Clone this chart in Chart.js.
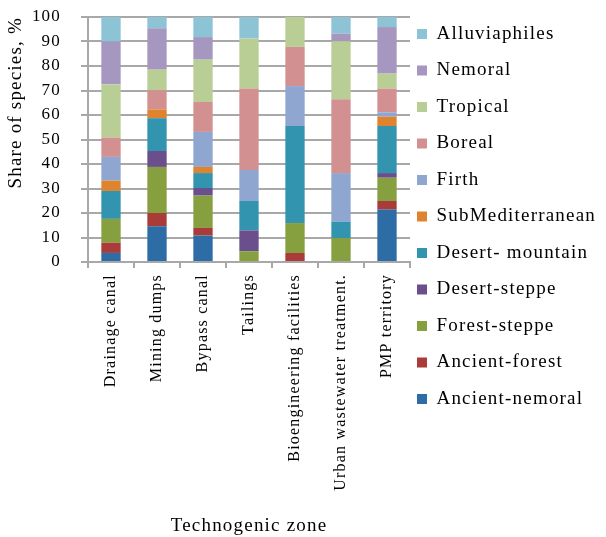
<!DOCTYPE html>
<html>
<head>
<meta charset="utf-8">
<script src="https://cdn.jsdelivr.net/npm/chart.js@4"></script>
<style>
  html, body { margin: 0; padding: 0; background: #fff; }
  #wrap { width: 606px; height: 537px; }
</style>
</head>
<body>
<div id="wrap"><canvas id="c" width="606" height="537"></canvas></div>
<script>
// Technogenic zones (x categories)
const zones = ['Drainage canal', 'Mining dumps', 'Bypass canal', 'Tailings',
  'Bioengineering facilities', 'Urban wastewater treatment.', 'PMP territory'];

// Share of species per ecological group, % (stacked bottom to top)
const ancientNemoral   = [3.7, 14.6, 10.8, 0, 0, 0, 21.4];
const ancientForest    = [4.2, 5.4, 3.1, 0, 3.7, 0, 3.5];
const forestSteppe     = [9.7, 18.8, 13.2, 4.4, 12.2, 9.8, 9.5];
const desertSteppe     = [0, 6.5, 3.1, 8.5, 0, 0, 1.9];
const desertMountain   = [11.4, 13.4, 6.1, 12.0, 39.6, 6.7, 19.2];
const subMediterranean = [4.2, 3.6, 2.5, 0, 0, 0, 3.8];
const firth            = [9.7, 0, 14.3, 12.7, 16.3, 19.8, 1.8];
const boreal           = [7.9, 7.8, 12.2, 33.2, 16.0, 30.1, 9.7];
const tropical         = [21.7, 8.4, 17.3, 20.4, 12.2, 23.7, 6.1];
const nemoral          = [17.5, 16.9, 9.2, 0, 0, 3.1, 19.0];
const alluviaphiles    = [10.0, 4.6, 8.2, 8.8, 0, 6.8, 4.1];

const groupNames = ['Ancient-nemoral', 'Ancient-forest', 'Forest-steppe', 'Desert-steppe',
  'Desert- mountain', 'SubMediterranean', 'Firth', 'Boreal', 'Tropical', 'Nemoral', 'Alluviaphiles'];
const groupValues = [ancientNemoral, ancientForest, forestSteppe, desertSteppe, desertMountain,
  subMediterranean, firth, boreal, tropical, nemoral, alluviaphiles];
const groupColors = ['#2e6ca5', '#a93b39', '#86a03f', '#6b4f8c', '#3394af', '#e0832e',
  '#8fa7d0', '#d39090', '#b8ce95', '#a597c0', '#8cc4d6'];

const yTicks = [0, 10, 20, 30, 40, 50, 60, 70, 80, 90, 100];

const FONT = "'Liberation Serif', 'Times New Roman', serif";
const GRID = '#a8a8a8';

// Slightly spaced lettering, applied whenever the canvas state may have been reset
const spacing = {
  id: 'spacing',
  beforeUpdate(chart) { chart.ctx.letterSpacing = '1.2px'; },
  beforeLayout(chart) { chart.ctx.letterSpacing = '1.2px'; },
  beforeDraw(chart) { chart.ctx.letterSpacing = '1.2px'; },
  // pull the legend column in close to the plot frame
  afterLayout(chart) {
    const lg = chart.legend;
    const pad = lg.options.labels.padding;
    const shift = (chart.chartArea.right + 7 - pad) - lg.left;
    lg.left += shift;
    lg.right += shift;
  }
};

new Chart(document.getElementById('c'), {
  type: 'bar',
  data: {
    labels: zones,
    datasets: groupNames.map((name, i) => ({
      label: name,
      data: groupValues[i],
      backgroundColor: groupColors[i],
      borderWidth: 0,
      barPercentage: 0.42,
      categoryPercentage: 1
    }))
  },
  options: {
    responsive: false,
    animation: false,
    layout: { padding: { left: 1, top: 7, right: 0, bottom: 0 } },
    plugins: {
      tooltip: { enabled: false },
      legend: {
        position: 'right',
        align: 'start',
        reverse: true,
        maxWidth: 196,
        labels: {
          boxWidth: 10,
          boxHeight: 10,
          padding: 17.5,
          color: '#000',
          font: { family: FONT, size: 19 }
        }
      }
    },
    scales: {
      x: {
        stacked: true,
        afterFit(axis) {
          axis.height = 275;
          axis.paddingLeft = 0;
          axis.paddingRight = 0;
        },
        grid: {
          offset: true,
          drawOnChartArea: true,
          color: (c) => c.index === zones.length ? GRID : 'rgba(0,0,0,0)',
          tickColor: GRID,
          tickLength: 6,
          lineWidth: 2
        },
        border: { color: GRID, width: 2 },
        ticks: {
          minRotation: 90,
          maxRotation: 90,
          padding: 6,
          color: '#000',
          font: { family: FONT, size: 16 }
        },
        title: {
          display: true,
          text: 'Technogenic zone',
          color: '#000',
          font: { family: FONT, size: 19 },
          padding: { top: 4, bottom: 0 }
        }
      },
      y: {
        stacked: true,
        min: 0,
        max: 100,
        afterBuildTicks(axis) { axis.ticks = yTicks.map(v => ({ value: v })); },
        afterFit(axis) {
          axis.width = 87;
          axis.paddingTop = 17;
          axis.paddingBottom = 0;
        },
        grid: { color: GRID, lineWidth: 2, tickLength: 7, tickColor: GRID },
        border: { color: GRID, width: 2 },
        ticks: {
          padding: 20,
          color: '#000',
          font: { family: FONT, size: 17 }
        },
        title: {
          display: true,
          text: 'Share of species, %',
          align: 'end',
          color: '#000',
          font: { family: FONT, size: 19 },
          padding: { top: 4, bottom: 4 }
        }
      }
    }
  },
  plugins: [spacing]
});
</script>
</body>
</html>
